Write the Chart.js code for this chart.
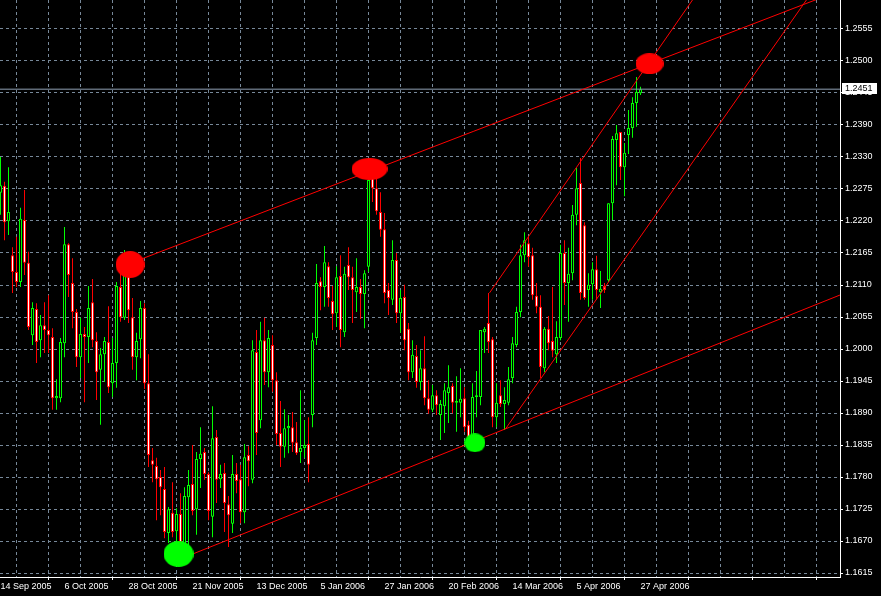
<!DOCTYPE html>
<html><head><meta charset="utf-8">
<script src="https://cdn.jsdelivr.net/npm/chart.js@4.4.1/dist/chart.umd.min.js"></script>
<style>html,body{margin:0;padding:0;background:#000;overflow:hidden}canvas{display:block;background:#000}</style>
</head><body>
<canvas id="c" width="881" height="596"></canvas>
<script>
// ---- data ----
const dateLabels = ['14 Sep 2005','6 Oct 2005','28 Oct 2005','21 Nov 2005','13 Dec 2005','5 Jan 2006','27 Jan 2006','20 Feb 2006','14 Mar 2006','5 Apr 2006','27 Apr 2006'];
const priceTickLabels = ['1.1615','1.1670','1.1725','1.1780','1.1835','1.1890','1.1945','1.2000','1.2055','1.2110','1.2165','1.2220','1.2275','1.2330','1.2390','1.2445','1.2500','1.2555'];

const opens = [1.2272,1.2284,1.2223,1.2164,1.2135,1.2118,1.2225,1.2151,1.2026,1.2071,
1.2017,1.2043,1.2035,1.2023,1.1917,1.1917,1.2012,1.2183,1.2116,1.2066,
1.1988,1.2028,1.2023,1.2083,1.2016,1.1966,1.1993,1.2014,1.1943,1.1978,
1.2109,1.2056,1.2130,1.2057,1.1988,1.2019,1.2073,1.1943,1.1810,1.1800,
1.1781,1.1760,1.1684,1.1719,1.1687,1.1717,1.1660,1.1746,1.1769,1.1725,
1.1812,1.1824,1.1786,1.1712,1.1850,1.1777,1.1788,1.1734,1.1700,1.1786,
1.1777,1.1720,1.1819,1.1776,1.1997,1.1879,1.2017,1.1962,1.2009,1.1948,
1.1857,1.1833,1.1865,1.1867,1.1841,1.1824,1.1831,1.1838,1.1888,1.2021,
1.2119,1.2109,1.2145,1.2085,1.2064,1.2128,1.2031,1.2147,1.2126,1.2100,
1.2109,1.2097,1.2144,1.2299,1.2280,1.2239,1.2209,1.2104,1.2087,1.2156,
1.2064,1.2092,1.2037,1.1962,1.1990,1.1945,1.1969,1.1917,1.1897,1.1922,
1.1888,1.1903,1.1926,1.1938,1.1909,1.1909,1.1917,1.1871,1.1841,1.1919,
1.1919,1.2031,1.2047,1.2019,1.1884,1.1922,1.1907,1.1909,1.1952,1.2009,
1.2066,1.2164,1.2185,1.2164,1.2094,1.2075,1.1969,1.2037,1.2016,1.1993,
1.2021,1.2168,1.2116,1.2133,1.2234,1.2289,1.2216,1.2104,1.2114,1.2140,
1.2100,1.2111,1.2121,1.2254,1.2363,1.2377,1.2316,1.2372,1.2384,1.2427,
1.2444];
const highs = [1.2334,1.2291,1.2316,1.2178,1.2196,1.2246,1.2277,1.2170,1.2083,1.2081,
1.2061,1.2083,1.2095,1.2038,1.1950,1.2021,1.2213,1.2185,1.2159,1.2071,
1.2056,1.2040,1.2111,1.2123,1.2031,1.2004,1.2023,1.2076,1.2021,1.2118,
1.2152,1.2173,1.2144,1.2090,1.2030,1.2085,1.2081,1.1993,1.1831,1.1814,
1.1793,1.1798,1.1729,1.1772,1.1727,1.1753,1.1763,1.1793,1.1836,1.1824,
1.1867,1.1831,1.1789,1.1903,1.1862,1.1802,1.1805,1.1748,1.1819,1.1805,
1.1802,1.1838,1.1834,1.2017,1.2035,1.2049,1.2056,1.2035,1.2026,1.1962,
1.1912,1.1898,1.1888,1.1893,1.1876,1.1931,1.1879,1.1884,1.2030,1.2149,
1.2126,1.2180,1.2152,1.2111,1.2145,1.2164,1.2144,1.2178,1.2144,1.2159,
1.2123,1.2138,1.2332,1.2308,1.2297,1.2273,1.2237,1.2116,1.2190,1.2168,
1.2104,1.2113,1.2047,1.2017,1.2009,1.2000,1.2024,1.1948,1.1940,1.1931,
1.1914,1.1943,1.1974,1.1943,1.1955,1.1969,1.1936,1.1878,1.1943,1.1964,
1.2035,1.2040,1.2099,1.2023,1.1943,1.1948,1.1936,1.1971,1.2023,1.2075,
1.2182,1.2204,1.2197,1.2177,1.2116,1.2095,1.2040,1.2059,1.2109,1.2050,
1.2182,1.2190,1.2177,1.2251,1.2315,1.2332,1.2221,1.2133,1.2152,1.2163,
1.2137,1.2116,1.2254,1.2370,1.2389,1.2377,1.2358,1.2415,1.2437,1.2472,
1.2455];
const lows = [1.2234,1.2190,1.2199,1.2099,1.2109,1.2109,1.2130,1.2035,1.2009,1.1978,
1.1988,1.1995,1.1995,1.1897,1.1897,1.1910,1.1988,1.2092,1.2038,1.1971,
1.1952,1.1910,1.1978,1.2005,1.1914,1.1871,1.1945,1.1926,1.1919,1.1935,
1.2049,1.2052,1.2047,1.1966,1.1948,1.1986,1.1933,1.1798,1.1772,1.1706,
1.1715,1.1675,1.1667,1.1677,1.1667,1.1660,1.1655,1.1663,1.1715,1.1681,
1.1762,1.1776,1.1706,1.1677,1.1736,1.1762,1.1686,1.1660,1.1684,1.1753,
1.1701,1.1701,1.1765,1.1770,1.1819,1.1865,1.1940,1.1936,1.1928,1.1836,
1.1798,1.1814,1.1822,1.1824,1.1819,1.1805,1.1814,1.1772,1.1867,1.2009,
1.2069,1.2075,1.2075,1.2035,1.2040,1.2005,1.2023,1.2104,1.2047,1.2066,
1.2054,1.2038,1.2135,1.2256,1.2234,1.2196,1.2081,1.2061,1.2078,1.2047,
1.2030,1.2000,1.1948,1.1952,1.1935,1.1931,1.1905,1.1890,1.1893,1.1888,
1.1845,1.1857,1.1874,1.1891,1.1859,1.1884,1.1859,1.1841,1.1840,1.1884,
1.1905,1.1995,1.1995,1.1867,1.1867,1.1902,1.1862,1.1905,1.1943,1.2005,
1.2057,1.2152,1.2144,1.2087,1.2064,1.1952,1.1962,1.2000,1.1988,1.1978,
1.2017,1.2078,1.2049,1.2121,1.2216,1.2087,1.2087,1.2075,1.2087,1.2087,
1.2073,1.2099,1.2118,1.2225,1.2285,1.2294,1.2266,1.2339,1.2367,1.2386,
1.2441];
const closes = [1.2285,1.2221,1.2239,1.2135,1.2118,1.2227,1.2151,1.2040,1.2073,1.2014,
1.2043,1.2035,1.2026,1.1917,1.1921,1.2014,1.2183,1.2130,1.2066,1.1988,
1.2028,1.2023,1.2073,1.2017,1.1962,1.1993,1.2016,1.1936,1.1978,1.2111,
1.2057,1.2132,1.2069,1.1988,1.2016,1.2073,1.1943,1.1819,1.1802,1.1777,
1.1763,1.1686,1.1725,1.1686,1.1717,1.1668,1.1748,1.1767,1.1722,1.1812,
1.1821,1.1786,1.1722,1.1848,1.1776,1.1786,1.1736,1.1715,1.1786,1.1774,
1.1720,1.1815,1.1808,1.2000,1.1857,1.2017,1.1962,1.2021,1.1948,1.1855,
1.1833,1.1865,1.1869,1.1840,1.1822,1.1831,1.1836,1.1802,1.2017,1.2116,
1.2109,1.2152,1.2090,1.2062,1.2126,1.2035,1.2132,1.2126,1.2104,1.2109,
1.2097,1.2133,1.2294,1.2280,1.2240,1.2208,1.2099,1.2090,1.2156,1.2064,
1.2090,1.2017,1.1962,1.1992,1.1945,1.1969,1.1917,1.1897,1.1922,1.1905,
1.1907,1.1931,1.1936,1.1909,1.1912,1.1916,1.1867,1.1850,1.1919,1.1922,
1.2035,1.2037,1.2014,1.1884,1.1909,1.1907,1.1914,1.1950,1.2012,1.2066,
1.2164,1.2190,1.2161,1.2095,1.2075,1.1971,1.2037,1.2012,1.1999,1.2023,
1.2168,1.2116,1.2132,1.2234,1.2280,1.2099,1.2090,1.2113,1.2140,1.2104,
1.2106,1.2104,1.2254,1.2365,1.2375,1.2316,1.2341,1.2384,1.2427,1.2446,
1.2451];

// drawn objects (bar index, price)
const trendUpper = [{x:32, y:1.2149}, {x:230, y:1.2675}];
const trendLower = [{x:44.5, y:1.1638}, {x:230, y:1.2151}];
const channelUpper = [{x:122.25, y:1.2099}, {x:180, y:1.2675}];
const channelLower = [{x:126.25, y:1.1864}, {x:210, y:1.2689}];
const highMarks = [{x:32.4, y:1.2148}, {x:92.25, y:1.2313}, {x:162.25, y:1.2495}];
const lowMarks = [{x:44.5, y:1.1648}, {x:118.6, y:1.1840}];

// ---- axis ranges / styles ----
const X_MIN = -0.125, X_MAX = 209.875;
const Y_MIN = 1.16081, Y_MAX = 1.26051;
const highMarkSizes = [[29,27],[36,22],[28,21]];
const lowMarkSizes = [[30,26],[21,19]];
const UP = '#00ff00', DOWN = '#ff0000', GRID = '#778899';
const FONT = {family:'"Liberation Sans", Arial, sans-serif', size:9};

function ellipseImg(w, h, color){
  const c = document.createElement('canvas'); c.width = w; c.height = h;
  const g = c.getContext('2d'); g.fillStyle = color; g.beginPath();
  g.ellipse(w/2, h/2, w/2, h/2, 0, 0, Math.PI*2); g.fill(); return c;
}
const highImgs = highMarkSizes.map(s => ellipseImg(s[0], s[1], DOWN));
const lowImgs = lowMarkSizes.map(s => ellipseImg(s[0], s[1], UP));

const isUp = i => closes[i] >= opens[i];
const wickData = closes.map((c, i) => ({x:i, y:[lows[i], highs[i]]}));
const bodyData = closes.map((c, i) => ({x:i, y:[opens[i], c]}));
const lastClose = closes[closes.length-1];

const yFirst = parseFloat(priceTickLabels[0]);
const yLast = parseFloat(priceTickLabels[priceTickLabels.length-1]);
const yStep = (yLast - yFirst) / (priceTickLabels.length - 1);

const lineDs = (data) => ({type:'line', data, borderColor:DOWN, borderWidth:1, pointRadius:0, fill:false, tension:0, order:1});

const priceTag = {
  id:'priceTag',
  afterDraw(chart){
    const ys = chart.scales.y, ctx = chart.ctx;
    const py = Math.round(ys.getPixelForValue(lastClose));
    ctx.save();
    ctx.fillStyle = '#fff'; ctx.fillRect(ys.left + 2, py - 6, 35, 11);
    ctx.fillStyle = '#000'; ctx.font = '9px "Liberation Sans", Arial, sans-serif';
    ctx.textBaseline = 'middle'; ctx.textAlign = 'left';
    ctx.fillText(lastClose.toFixed(4), ys.left + 5, py);
    ctx.restore();
  }
};

new Chart(document.getElementById('c'), {
  type:'bar',
  data:{ datasets:[
    {type:'scatter', data:highMarks, pointStyle:c => highImgs[c.dataIndex], pointRadius:1, order:0},
    {type:'scatter', data:lowMarks, pointStyle:c => lowImgs[c.dataIndex], pointRadius:1, order:0},
    lineDs(trendUpper), lineDs(trendLower), lineDs(channelUpper), lineDs(channelLower),
    {type:'line', data:[{x:X_MIN, y:lastClose},{x:X_MAX, y:lastClose}], borderColor:'#8fa0b4', borderWidth:1, pointRadius:0, order:2},
    {type:'bar', data:bodyData, grouped:false, barThickness:3, borderWidth:1, borderSkipped:false, inflateAmount:0, minBarLength:1,
      backgroundColor:c => isUp(c.dataIndex) ? '#000' : '#fff',
      borderColor:c => isUp(c.dataIndex) ? UP : DOWN, order:3},
    {type:'bar', data:wickData, grouped:false, barThickness:1, borderWidth:0, inflateAmount:0,
      backgroundColor:c => isUp(c.dataIndex) ? UP : DOWN, order:4}
  ]},
  options:{
    responsive:false, animation:false, devicePixelRatio:1, events:[],
    layout:{padding:0, autoPadding:false},
    plugins:{legend:{display:false}, tooltip:{enabled:false}},
    scales:{
      x:{type:'linear', position:'bottom', min:X_MIN, max:X_MAX, bounds:'data', offset:false,
        afterBuildTicks:s => { const t=[]; for (let v=0; v<=X_MAX; v+=8) t.push({value:v}); s.ticks = t; },
        afterFit:s => { s.height = 19; s.paddingLeft = 0; s.paddingRight = 0; },
        grid:{color:GRID, lineWidth:1, drawTicks:true, tickLength:3,
          tickColor:c => (c.tick && c.tick.value % 16 === 0) ? '#fff' : 'rgba(0,0,0,0)'},
        border:{display:true, color:'#fff', width:1, dash:[3,3]},
        ticks:{autoSkip:false, maxRotation:0, minRotation:0, align:'start', color:'#fff', font:FONT, padding:1,
          callback:v => v % 16 === 0 ? (dateLabels[v/16] || '') : ''}
      },
      y:{type:'linear', position:'right', min:Y_MIN, max:Y_MAX, bounds:'data',
        afterBuildTicks:s => { s.ticks = priceTickLabels.map((t,k) => ({value: yFirst + k*yStep})); },
        afterFit:s => { s.width = 41; s.paddingTop = 0; s.paddingBottom = 0; },
        grid:{color:GRID, lineWidth:1, drawTicks:true, tickLength:3, tickColor:'#fff'},
        border:{display:true, color:'#fff', width:1, dash:[3,3]},
        ticks:{autoSkip:false, color:'#fff', font:FONT, padding:2, callback:(v,i) => priceTickLabels[i]}
      }
    }
  },
  plugins:[priceTag]
});
</script>
</body></html>
